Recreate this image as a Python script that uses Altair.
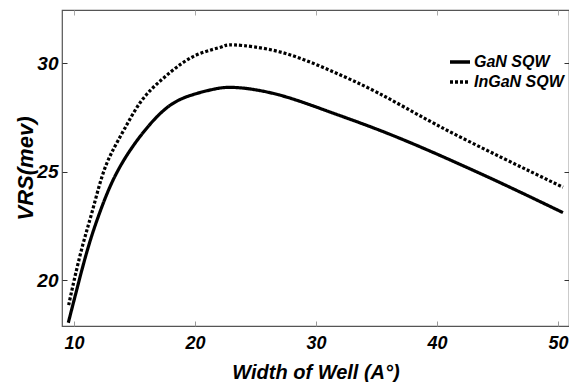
import altair as alt
import pandas as pd

# GaN SQW (solid)
gan_x = [9.52, 10.21, 11.1, 12.02, 13.12, 14.49, 16.14, 17.78, 19.43, 21.35, 23.4, 26.94, 31.06, 35.17, 39.84, 45.32, 50.4]
gan_y = [18.05, 19.55, 21.4, 22.97, 24.5, 25.87, 27.1, 28.0, 28.48, 28.78, 28.88, 28.54, 27.77, 26.93, 25.85, 24.47, 23.12]

# InGaN SQW (dotted)
ingan_x = [9.55, 10.0, 10.7, 11.47, 12.29, 13.12, 14.21, 15.58, 17.23, 18.88, 20.52, 22.17, 23.3, 26.94, 31.06, 35.17, 39.84, 45.32, 50.4]
ingan_y = [18.86, 20.0, 21.6, 23.12, 24.75, 25.9, 27.02, 28.28, 29.24, 29.98, 30.47, 30.75, 30.84, 30.53, 29.69, 28.62, 27.2, 25.66, 24.29]

series_names = ["GaN SQW", "InGaN SQW"]
x_ticks = [10, 20, 30, 40, 50]
y_ticks = [20, 25, 30]

df = pd.concat([
    pd.DataFrame({"x": gan_x, "y": gan_y, "series": series_names[0]}),
    pd.DataFrame({"x": ingan_x, "y": ingan_y, "series": series_names[1]}),
])

FONT = "Liberation Sans"
xscale = alt.Scale(domain=[9, 50.9], nice=False, zero=False)
yscale = alt.Scale(domain=[17.9, 32.45], nice=False, zero=False)

base = alt.Chart(df)

lines = base.mark_line(interpolate="natural", color="black", strokeWidth=3.2).encode(
    x=alt.X("x:Q", scale=xscale, axis=alt.Axis(
        orient="bottom", values=x_ticks, title="Width of Well (A°)", offset=-5, tickSize=5,
        domain=False, grid=False, labelPadding=8, labelFont=FONT, labelFontSize=18,
        labelFontWeight="bold", labelFontStyle="italic", labelColor="black",
        titleFont=FONT, titleFontSize=20, titleFontWeight="bold", titleFontStyle="italic",
        titleColor="black", titlePadding=10, tickColor="#999")),
    y=alt.Y("y:Q", scale=yscale, axis=alt.Axis(
        orient="left", values=y_ticks, title="VRS(mev)", offset=-5, tickSize=5,
        domain=False, grid=False, labelPadding=4, labelFont=FONT, labelFontSize=19,
        labelFontWeight="bold", labelFontStyle="italic", labelColor="black",
        titleFont=FONT, titleFontSize=22, titleFontWeight="bold", titleFontStyle="italic",
        titleColor="black", titlePadding=-1, tickColor="#333")),
    strokeDash=alt.StrokeDash("series:N", scale=alt.Scale(domain=series_names, range=[[1, 0], [3, 2]]),
        legend=alt.Legend(orient="none", legendX=386, legendY=40, title=None,
                          symbolType="stroke", symbolSize=400, symbolStrokeWidth=3.5,
                          symbolStrokeColor="black", labelFont=FONT, labelFontSize=16,
                          labelFontWeight="bold", labelFontStyle="italic", labelColor="black",
                          padding=0, rowPadding=0, labelOffset=2)),
)

frame = base.mark_line(opacity=0).encode(
    x=alt.X("x:Q", scale=xscale, axis=alt.Axis(
        orient="top", values=x_ticks, labels=False, title=None, domain=False, offset=-5,
        tickSize=5, grid=False, tickColor="#aaa")),
    y=alt.Y("y:Q", scale=yscale, axis=alt.Axis(
        orient="right", values=y_ticks, labels=False, title=None, domain=False, offset=-5,
        tickSize=5, grid=False, tickColor="#333")),
    detail="series:N",
)

chart = alt.layer(lines, frame).resolve_axis(x="independent", y="independent").properties(
    width=507, height=316,
    autosize=alt.AutoSizeParams(type="none"),
    padding={"left": 54, "top": 2, "right": 0, "bottom": 56},
).configure_view(stroke="#555", strokeWidth=1.2)

chart.save("out.html", embed_options={"renderer": "svg", "actions": False})
